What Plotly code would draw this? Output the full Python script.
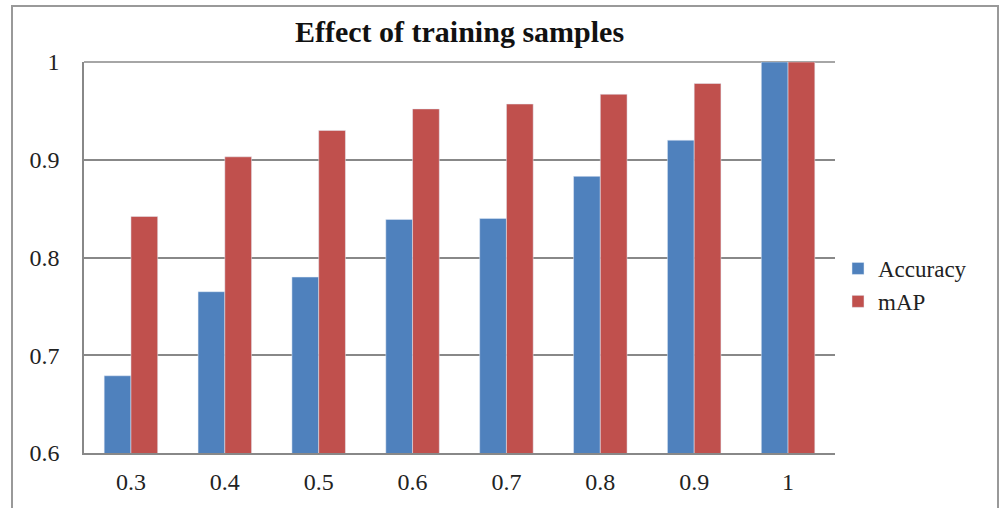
import plotly.graph_objects as go

categories = ["0.3", "0.4", "0.5", "0.6", "0.7", "0.8", "0.9", "1"]
accuracy = [0.679, 0.765, 0.780, 0.839, 0.840, 0.883, 0.920, 1.0]
mAP = [0.842, 0.903, 0.930, 0.952, 0.957, 0.967, 0.978, 1.0]
y_ticks = [0.6, 0.7, 0.8, 0.9, 1.0]
y_tick_labels = ["0.6", "0.7", "0.8", "0.9", "1"]

W, H = 1005, 508
ml, mr, mt, mb = 84, 170, 62, 55
pw = W - ml - mr
ph = H - mt - mb

fig = go.Figure()
fig.add_trace(go.Bar(x=categories, y=accuracy, name="Accuracy", marker_color="#4F81BD"))
fig.add_trace(go.Bar(x=categories, y=mAP, name="mAP", marker_color="#C0504D"))

def px_x(p):
    return (p - ml) / pw

def px_y(p):
    return (H - mb - p) / ph

fig.update_layout(
    width=W, height=H,
    margin=dict(l=ml, r=mr, t=mt, b=mb),
    paper_bgcolor="white", plot_bgcolor="white",
    font=dict(family="Liberation Serif", size=24, color="#222"),
    title=dict(text="<b>Effect of training samples</b>", x=0.5, xanchor="center",
               y=1 - 31 / H, yanchor="middle", xref="paper",
               font=dict(size=30, color="#111")),
    barmode="group", bargap=0.43, bargroupgap=0,
    showlegend=True,
    legend=dict(x=px_x(838), y=px_y(247), xanchor="left", yanchor="top",
                font=dict(size=23), itemwidth=30),
    xaxis=dict(showline=True, linecolor="#888", linewidth=1.5, ticks="",
               tickfont=dict(size=24), showgrid=False, ticklabelstandoff=6),
    yaxis=dict(range=[0.6, 1.0], tickvals=y_ticks, ticktext=y_tick_labels,
               showline=True, linecolor="#888", linewidth=1.5,
               showgrid=True, gridcolor="#888", gridwidth=1.5,
               ticks="", tickfont=dict(size=24), zeroline=False,
               ticklabelstandoff=18),
    shapes=[
        dict(type="line", xref="paper", yref="paper", x0=0, x1=1, y0=1, y1=1,
             line=dict(color="#888", width=1.5), layer="below"),
        dict(type="rect", xref="paper", yref="paper",
             x0=px_x(12), x1=px_x(998), y0=px_y(515), y1=px_y(6),
             line=dict(color="#999", width=2), fillcolor="rgba(0,0,0,0)"),
    ],
)

fig.write_html("out.html", config={"displayModeBar": False},
               post_script="document.body.style.margin='0';document.body.style.overflow='hidden';")
